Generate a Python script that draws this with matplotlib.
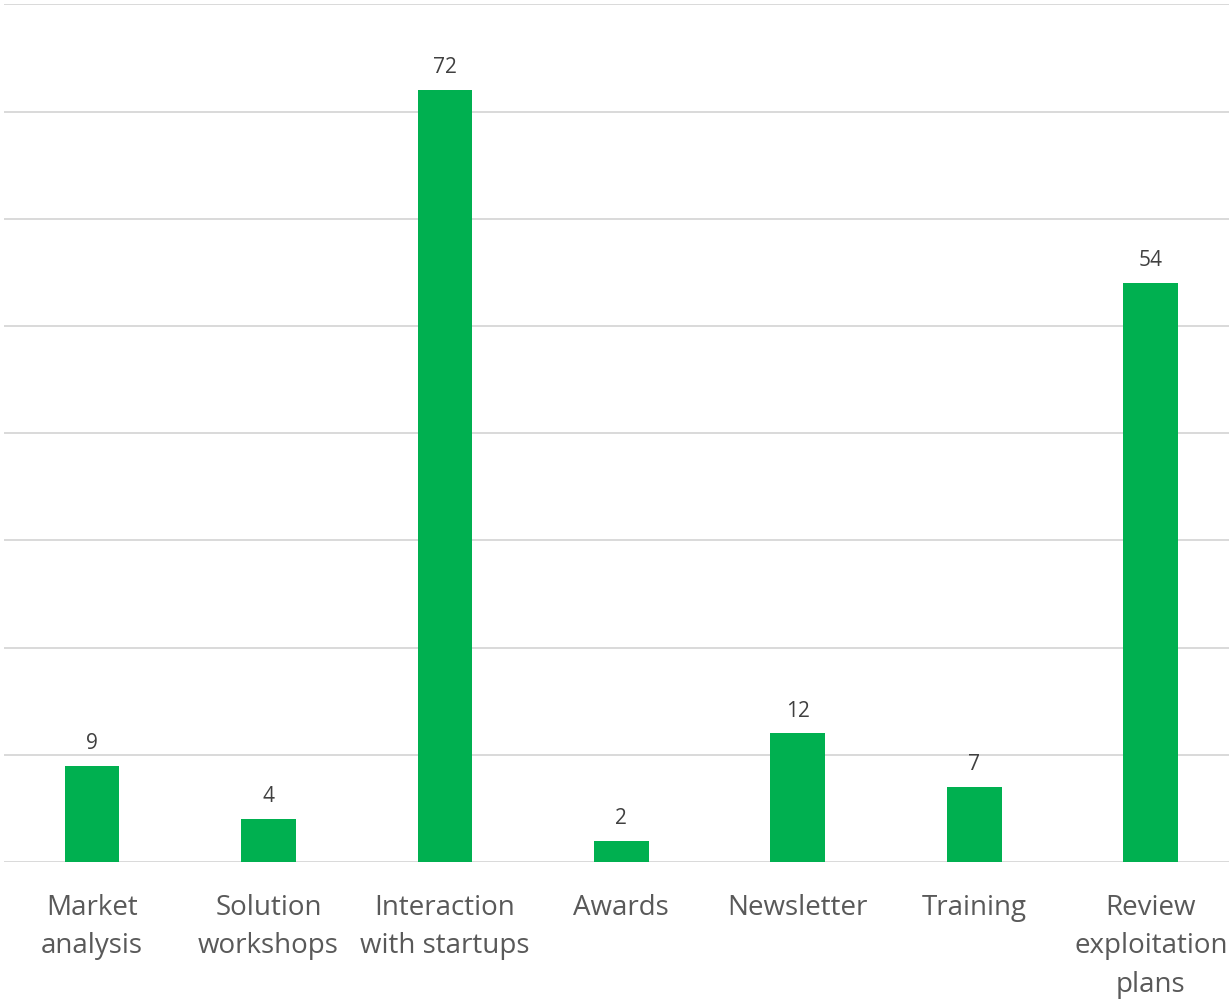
import matplotlib
matplotlib.use("Agg")
import matplotlib.pyplot as plt

categories = ["Market\nanalysis", "Solution\nworkshops", "Interaction\nwith startups",
              "Awards", "Newsletter", "Training", "Review\nexploitation\nplans"]
values = [9, 4, 72, 2, 12, 7, 54]

W, H = 1229, 1001
fig = plt.figure(figsize=(W / 100, H / 100), dpi=100)
left = 3.75 / W
right = 1239.0 / W
bottom = 139.0 / H
top = (1001 - 4.4) / H
ax = fig.add_axes([left, bottom, right - left, top - bottom])

x = list(range(len(categories)))
bars = ax.bar(x, values, width=0.31, color="#00B050", zorder=3)
ax.set_xlim(-0.5, len(categories) - 0.5)
ax.set_ylim(0, 80)
ax.set_yticks(range(0, 81, 10))
ax.yaxis.grid(True, color="#D9D9D9", linewidth=1.4, zorder=0)
ax.tick_params(axis="y", left=False, labelleft=False)
ax.tick_params(axis="x", length=0, pad=23, labelsize=20, labelcolor="#595959")
ax.set_xticks(x)
ax.set_xticklabels(categories, fontfamily="Open Sans", linespacing=1.5, va="top")
for s in ax.spines.values():
    s.set_visible(False)

for xi, v in zip(x, values):
    ax.annotate(str(v), (xi, v), xytext=(0, 8.5), textcoords="offset points",
                ha="center", va="bottom", fontsize=15, color="#404040",
                fontfamily="Open Sans")

fig.savefig("out.png", dpi=100)
